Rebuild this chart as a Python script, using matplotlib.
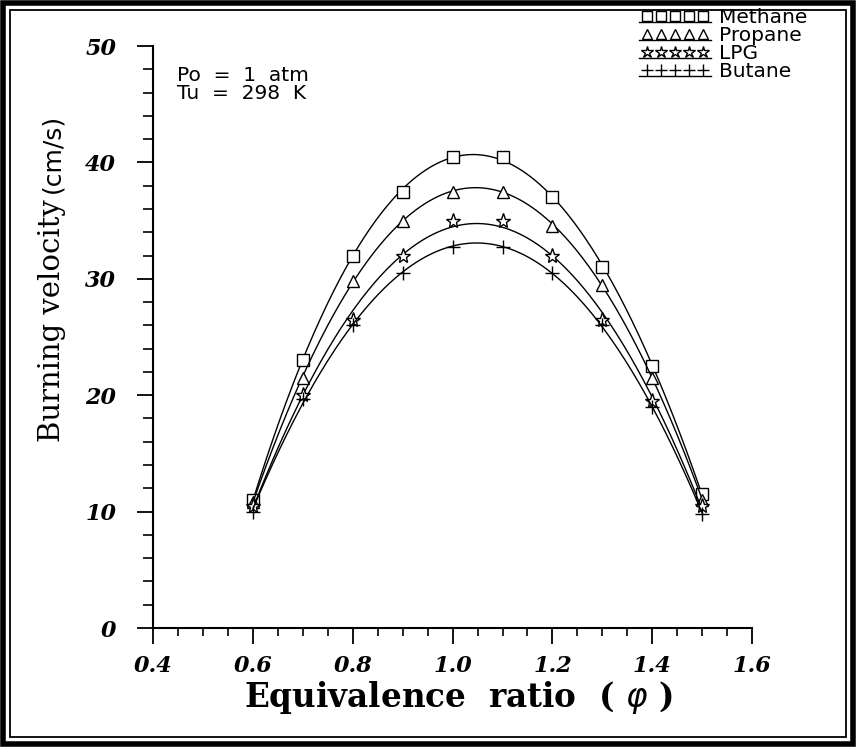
import numpy as np
import matplotlib
matplotlib.use("Agg")
import matplotlib.pyplot as plt
from matplotlib.lines import Line2D
from matplotlib.patches import Rectangle
from matplotlib.legend_handler import HandlerLine2D, HandlerTuple
from matplotlib.ticker import MultipleLocator

# data
phi = [0.6, 0.7, 0.8, 0.9, 1.0, 1.1, 1.2, 1.3, 1.4, 1.5]
methane = [11.0, 23.0, 32.0, 37.5, 40.5, 40.5, 37.0, 31.0, 22.5, 11.5]
propane = [10.8, 21.5, 29.8, 35.0, 37.5, 37.5, 34.5, 29.5, 21.5, 11.0]
lpg = [10.5, 20.0, 26.5, 32.0, 35.0, 35.0, 32.0, 26.5, 19.5, 10.5]
butane = [10.0, 19.7, 26.0, 30.5, 32.7, 32.7, 30.5, 26.0, 19.0, 9.8]

names = ["Methane", "Propane", "LPG", "Butane"]
series = [methane, propane, lpg, butane]
markers = ["s", "^", "*", "+"]
msizes = [9, 9, 11, 10]

fig = plt.figure(figsize=(8.56, 7.47), dpi=100)
ax = fig.add_axes([0.1787, 0.1593, 0.7, 0.7791])

xs = np.linspace(0.6, 1.5, 200)
for y, m, ms in zip(series, markers, msizes):
    # smooth fitted curve through the points
    c = np.polyfit(phi, y, 3)
    ax.plot(xs, np.polyval(c, xs), color="black", lw=1.0)
    ax.plot(phi, y, linestyle="none", marker=m, ms=ms, mfc="white",
            mec="black", mew=1.0, color="black")

ax.set_xlim(0.4, 1.6)
ax.set_ylim(0, 50)
ax.spines["top"].set_visible(False)
ax.spines["right"].set_visible(False)
ax.spines["left"].set_linewidth(1.5)
ax.spines["bottom"].set_linewidth(1.5)
ax.xaxis.set_major_locator(MultipleLocator(0.2))
ax.xaxis.set_minor_locator(MultipleLocator(0.05))
ax.yaxis.set_major_locator(MultipleLocator(10))
ax.yaxis.set_minor_locator(MultipleLocator(2))
ax.tick_params(which="major", length=11.5, width=1.3, direction="out", pad=8)
ax.tick_params(which="minor", length=6, width=1.2, direction="out")
ax.tick_params(axis="y", which="major", pad=15)
ax.tick_params(axis="y", which="minor", length=7)
ax.set_xticks([0.4, 0.6, 0.8, 1.0, 1.2, 1.4, 1.6])
ax.set_xticklabels(["0.4", "0.6", "0.8", "1.0", "1.2", "1.4", "1.6"])
ax.set_yticks([0, 10, 20, 30, 40, 50])
ax.set_yticklabels(["0", "10", "20", "30", "40", "50"])
for lab in ax.get_xticklabels() + ax.get_yticklabels():
    lab.set_fontfamily("DejaVu Serif")
    lab.set_fontweight("bold")
    lab.set_fontstyle("italic")
    lab.set_fontsize(16)

# conditions
ax.text(0.04, 0.965, "Po  =  1  atm\nTu  =  298  K", transform=ax.transAxes,
        ha="left", va="top", fontsize=14.5, family="DejaVu Sans",
        linespacing=0.9)

# legend with markers repeated over an underline
class LowLine(HandlerLine2D):
    def create_artists(self, legend, orig_handle, xdescent, ydescent,
                       width, height, fontsize, trans):
        arts = super().create_artists(legend, orig_handle, xdescent, ydescent,
                                      width, height, fontsize, trans)
        for a in arts:
            a.set_ydata(np.asarray(a.get_ydata()) - height * 0.40)
        return arts

handles = []
hmap = {tuple: HandlerTuple(ndivide=1, pad=0)}
for m, ms in zip(markers, msizes):
    mk = Line2D([], [], linestyle="none", marker=m, ms=ms * 0.8, mfc="white",
                mec="black", mew=1.0)
    ln = Line2D([], [], color="black", lw=1.0)
    hmap[ln] = LowLine(numpoints=2, marker_pad=0)
    hmap[mk] = HandlerLine2D(numpoints=5, marker_pad=0.4)
    handles.append((mk, ln))

leg = fig.legend(handles, names, handler_map=hmap, loc="upper right",
                 bbox_to_anchor=(0.96, 1.008), frameon=False,
                 prop={"family": "DejaVu Sans", "size": 14.5},
                 handlelength=3.6, handletextpad=0.4, labelspacing=-0.05,
                 borderpad=0.2)

# axis labels
fig.text(0.535, 0.066, r"Equivalence  ratio  ( $\varphi$ )", ha="center",
         va="center", fontsize=23.5, family="DejaVu Serif", fontweight="bold")
t1 = fig.text(52 / 856, 1 - 442 / 747, "Burning velocity", rotation=90,
              rotation_mode="anchor", ha="left", va="center", fontsize=21,
              family="DejaVu Serif")
fig.canvas.draw()
bb = t1.get_window_extent().transformed(fig.transFigure.inverted())
fig.text(52 / 856, bb.y1 + 0.008, "(cm/s)", rotation=90,
         rotation_mode="anchor", ha="left", va="center", fontsize=18,
         family="DejaVu Sans")

# double frame around the whole figure
fig.patches.append(Rectangle((0.003, 0.004), 0.994, 0.992, transform=fig.transFigure,
                             fill=False, lw=4, ec="black", figure=fig))
fig.patches.append(Rectangle((0.012, 0.013), 0.976, 0.974, transform=fig.transFigure,
                             fill=False, lw=1.3, ec="black", figure=fig))

fig.savefig("out.png", dpi=100)
